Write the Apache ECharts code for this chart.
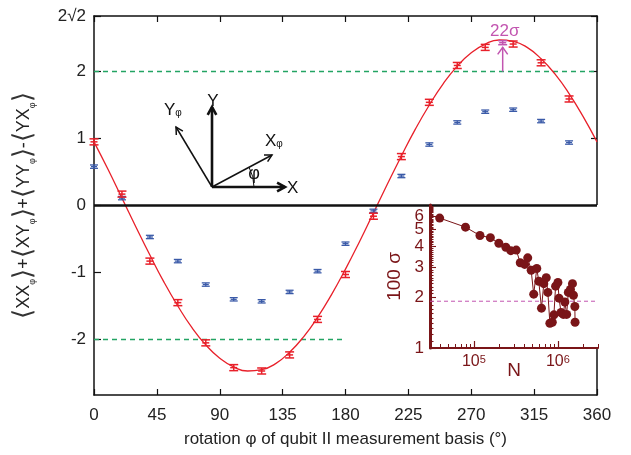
<!DOCTYPE html>
<html><head><meta charset="utf-8">
<script src="https://cdn.jsdelivr.net/npm/echarts@6.0.0/dist/echarts.min.js"></script>
<style>html,body{margin:0;padding:0;background:#fff}#c{width:631px;height:455px}</style>
</head><body><div id="c"></div>
<script>
const FONT = '"Liberation Sans", Arial, Helvetica, sans-serif';
// ---- main plot data ----
const phi = [0,20,40,60,80,100,120,140,160,180,200,220,240,260,280,300,320,340];
const redVals = [0.95,0.17,-0.83,-1.45,-2.05,-2.42,-2.47,-2.23,-1.70,-1.03,-0.16,0.73,1.54,2.09,2.36,2.41,2.13,1.59];
const redErr = 0.045;
const blueVals = [0.58,0.11,-0.47,-0.83,-1.18,-1.40,-1.43,-1.29,-0.98,-0.57,-0.08,0.44,0.91,1.24,1.40,1.43,1.26,0.94];
const blueErr = 0.025;
const magPhi = [292.5];
const magVals = [2.43];
const magErr = 0.03;
const arrowFrom = 2.0, arrowTo = 2.36, arrowLabelAt = 2.6;
const curvePhi = [0,10,20,30,40,50,60,70,80,90,100,110,120,130,140,150,160,170,180,190,200,210,220,230,240,250,260,270,280,290,300,310,320,330,340,350,360];
const curveVals = [0.95,0.54,0.11,-0.32,-0.74,-1.14,-1.50,-1.82,-2.08,-2.28,-2.41,-2.47,-2.45,-2.36,-2.19,-1.96,-1.67,-1.33,-0.95,-0.54,-0.11,0.32,0.74,1.14,1.50,1.82,2.08,2.28,2.41,2.47,2.45,2.36,2.19,1.96,1.67,1.33,0.95];
const yTicks = [-2,-1,0,1,2,2*Math.SQRT2];
const upperBoundPhi = [0,360], upperBound = [2,2];
const lowerBoundPhi = [0,180], lowerBound = [-2,-2];
// ---- inset data ----
const insetN = [39100,79400,118000,157000,198000,240000,275000,319000,356000,402000,437000,480000,515000,560000,592000,637000,679000,726000,759000,802000,857000,896000,938000,1000000,1030000,1090000,1160000,1210000,1270000,1330000,1410000,1490000,1530000,1590000,1600000];
const insetSigma = [5.86,5.18,4.62,4.49,4.16,3.94,3.76,3.79,3.19,3.12,3.41,2.88,2.08,2.95,2.48,1.72,2.40,2.60,2.13,1.40,1.42,1.57,2.32,2.44,1.97,1.62,1.58,1.87,1.58,2.13,2.22,2.40,2.05,1.76,1.42];
const insetRef = 1.89;
const insetYLabelsA = [1,2,3,4,6];
const insetYLabelsB = [5];
const insetXLabels = [5,6]; // powers of ten

const RED = '#e8202a', BLUE = '#3a5aa8', MAG = '#c255b0', DRED = '#7a1518', GREEN = '#23a463';

const yMax = 2*Math.SQRT2;
const xLogMin = Math.log10(30000), xLogMax = Math.log10(3000000), yLogMax = Math.log10(7);
const minorX = []; [4,5,6,7,8,9].forEach(k=>minorX.push(Math.log10(k*1e4)));
[2,3,4,5,6,7,8,9].forEach(k=>minorX.push(Math.log10(k*1e5))); [2,3].forEach(k=>minorX.push(Math.log10(k*1e6)));
const minorY = []; for (let i=11;i<70;i++){ if(i%10) minorY.push(Math.log10(i/10)); }

function errRender(color, capW, lw) {
  return function(params, api) {
    const x = api.value(0), y = api.value(1), e = api.value(2);
    const t = api.coord([x, y+e]), b = api.coord([x, y-e]), c = api.coord([x, y]);
    const h = capW/2, st = {stroke: color, lineWidth: lw};
    return {type:'group', children:[
      {type:'line', shape:{x1:t[0],y1:t[1],x2:b[0],y2:b[1]}, style:st},
      {type:'line', shape:{x1:t[0]-h,y1:t[1],x2:t[0]+h,y2:t[1]}, style:st},
      {type:'line', shape:{x1:b[0]-h,y1:b[1],x2:b[0]+h,y2:b[1]}, style:st},
      {type:'line', shape:{x1:c[0]-h+1,y1:c[1],x2:c[0]+h-1,y2:c[1]}, style:st}
    ]};
  };
}

function arrowEls(x1,y1,x2,y2,lw,hl,color){
  const a = Math.atan2(y2-y1, x2-x1), s = 0.5;
  const p1 = [x2 - hl*Math.cos(a-s), y2 - hl*Math.sin(a-s)];
  const p2 = [x2 - hl*Math.cos(a+s), y2 - hl*Math.sin(a+s)];
  return [
    {type:'line', shape:{x1,y1,x2,y2}, style:{stroke:color, lineWidth:lw}},
    {type:'polyline', shape:{points:[p1,[x2,y2],p2]}, style:{stroke:color, lineWidth:lw, fill:null, lineJoin:'miter'}}
  ];
}

const chart = echarts.init(document.getElementById('c'));
const O = [212,187];
const diagram = [].concat(
  arrowEls(O[0],O[1],212,107,2.6,9,'#111'),
  arrowEls(O[0],O[1],285,187,2.6,9,'#111'),
  arrowEls(O[0],O[1],272,155,1.5,8,'#111'),
  arrowEls(O[0],O[1],176,127,1.5,8,'#111'),
  [
    {type:'arc', shape:{cx:O[0],cy:O[1],r:42,startAngle:-0.49,endAngle:0,clockwise:true}, style:{stroke:'#111',lineWidth:1,fill:null}},
    {type:'text', x:213, y:101, style:{text:'Y', font:'17px '+FONT, fill:'#111', align:'center', verticalAlign:'middle'}},
    {type:'text', x:287, y:188, style:{text:'X', font:'17px '+FONT, fill:'#111', align:'left', verticalAlign:'middle'}},
    {type:'text', x:265, y:141, style:{text:'X{s|φ}', font:'17px '+FONT, fill:'#111', align:'left', verticalAlign:'middle', rich:{s:{fontSize:10, fontFamily:FONT, fill:'#111', verticalAlign:'bottom', lineHeight:8}}}},
    {type:'text', x:164, y:110, style:{text:'Y{s|φ}', font:'17px '+FONT, fill:'#111', align:'left', verticalAlign:'middle', rich:{s:{fontSize:10, fontFamily:FONT, fill:'#111', verticalAlign:'bottom', lineHeight:8}}}},
    {type:'text', x:254, y:174, style:{text:'φ', font:'18px '+FONT, fill:'#111', align:'center', verticalAlign:'middle'}}
  ]
);

const axisBlack = {onZero:false, lineStyle:{color:'#111', width:1.5}};
const insetYLabelAxis = (vals, showLine, tickLen, tickVals, extra) => Object.assign({
  type:'value', gridIndex:1, min:0, max:yLogMax, position:'left', z:5,
  axisLine:{show:showLine, onZero:false, lineStyle:{color:DRED, width:3}},
  axisTick:{inside:true, length:tickLen, customValues:tickVals, lineStyle:{color:DRED,width:1.1}},
  axisLabel:{customValues:vals.map(v=>Math.log10(v)), hideOverlap:false,
    formatter:v=>String(Math.round(Math.pow(10,v))), color:DRED, fontSize:17, fontFamily:FONT, margin:6},
  splitLine:{show:false}}, extra||{});

chart.setOption({
  animation:false,
  grid:[
    {left:94, top:16, right:34, bottom:60, show:false},
    {left:430, top:205, right:33, bottom:107, show:true, backgroundColor:'#fff', borderWidth:0, z:3}
  ],
  xAxis:[
    {type:'value', gridIndex:0, min:0, max:360, interval:45, position:'bottom',
     axisLine:axisBlack, axisTick:{inside:true, length:6, lineStyle:{color:'#111',width:1.2}},
     axisLabel:{color:'#222', fontSize:17, fontFamily:FONT, margin:12}, splitLine:{show:false},
     name:'rotation φ of qubit II measurement basis (°)', nameLocation:'middle', nameGap:36, nameMoveOverlap:false,
     nameTextStyle:{color:'#222', fontSize:17, fontFamily:FONT}},
    {type:'value', gridIndex:0, min:0, max:360, interval:45, position:'top',
     axisLine:axisBlack, axisTick:{inside:true, length:6, lineStyle:{color:'#111',width:1.2}},
     axisLabel:{show:false}, splitLine:{show:false}},
    {type:'log', gridIndex:1, min:30000, max:3000000, show:false},
    {type:'value', gridIndex:1, min:xLogMin, max:xLogMax, position:'bottom', z:5,
     axisLine:{onZero:false, lineStyle:{color:DRED, width:2}},
     axisTick:{inside:true, length:7, customValues:insetXLabels, lineStyle:{color:DRED,width:1.2}},
     axisLabel:{customValues:insetXLabels, hideOverlap:false, formatter:v=>'10{s|'+Math.round(v)+'}', color:DRED, fontSize:16, fontFamily:FONT, margin:6,
       rich:{s:{fontSize:11, fontFamily:FONT, color:DRED, verticalAlign:'top', lineHeight:10}}},
     splitLine:{show:false},
     name:'N', nameLocation:'middle', nameGap:13, nameMoveOverlap:false, nameTextStyle:{color:DRED, fontSize:19, fontFamily:FONT}},
    {type:'value', gridIndex:1, min:xLogMin, max:xLogMax, position:'bottom', z:5,
     axisLine:{show:false, onZero:false}, axisTick:{inside:true, length:4, customValues:minorX, lineStyle:{color:DRED,width:1}},
     axisLabel:{show:false}, splitLine:{show:false}}
  ],
  yAxis:[
    {type:'value', gridIndex:0, min:-yMax, max:yMax, position:'left',
     axisLine:axisBlack, axisTick:{inside:true, length:7, customValues:yTicks, lineStyle:{color:'#111',width:1.2}},
     axisLabel:{customValues:yTicks, hideOverlap:false, formatter:v=>v>2.5?'2√2':String(Math.round(v)), color:'#222', fontSize:17, fontFamily:FONT, margin:8},
     splitLine:{show:false},
     name:'{b|⟨}XX{s|φ}{b|⟩}+{b|⟨}XY{s|φ}{b|⟩}+{b|⟨}YY{s|φ}{b|⟩}-{b|⟨}YX{s|φ}{b|⟩}', nameLocation:'middle', nameGap:57, nameRotate:90, nameMoveOverlap:false,
     nameTextStyle:{color:'#222', fontSize:18, fontFamily:FONT,
       rich:{b:{fontSize:26, fontFamily:'"DejaVu Sans", '+FONT, color:'#333', fontWeight:'lighter'},
             s:{fontSize:9, fontFamily:FONT, color:'#333', verticalAlign:'bottom', lineHeight:10}}}},
    {type:'value', gridIndex:0, min:-yMax, max:yMax, position:'right',
     axisLine:axisBlack, axisTick:{inside:true, length:6, customValues:yTicks, lineStyle:{color:'#111',width:1.2}},
     axisLabel:{show:false}, splitLine:{show:false}},
    {type:'log', gridIndex:1, min:1, max:7, show:false},
    insetYLabelAxis(insetYLabelsA, true, 6, [1,2,3,4,5,6].map(v=>Math.log10(v)),
      {name:'100 σ', nameLocation:'middle', nameGap:26, nameRotate:90, nameMoveOverlap:false, nameTextStyle:{color:DRED, fontSize:19, fontFamily:FONT}}),
    insetYLabelAxis(insetYLabelsB, false, 3.5, minorY)
  ],
  series:[
    {type:'line', xAxisIndex:0, yAxisIndex:0, data:curvePhi.map((p,i)=>[p,curveVals[i]]), smooth:true, showSymbol:false,
     lineStyle:{color:RED, width:1.3}, z:3},
    {type:'line', xAxisIndex:0, yAxisIndex:0, data:upperBoundPhi.map((p,i)=>[p,upperBound[i]]), showSymbol:false, silent:true,
     itemStyle:{color:GREEN}, lineStyle:{color:GREEN, type:[5,4], width:1.5, opacity:1}, z:2},
    {type:'line', xAxisIndex:0, yAxisIndex:0, data:lowerBoundPhi.map((p,i)=>[p,lowerBound[i]]), showSymbol:false, silent:true,
     itemStyle:{color:GREEN}, lineStyle:{color:GREEN, type:[5,4], width:1.5, opacity:1}, z:2},
    {type:'line', xAxisIndex:0, yAxisIndex:0, data:[[0,0],[360,0]], showSymbol:false, silent:true,
     lineStyle:{color:'#111', width:2.5}, z:3},
    {type:'custom', xAxisIndex:0, yAxisIndex:0, renderItem:errRender(BLUE, 8, 1.3), data:phi.map((p,i)=>[p,blueVals[i],blueErr]), z:4},
    {type:'custom', xAxisIndex:0, yAxisIndex:0, renderItem:errRender(RED, 9, 1.5), data:phi.map((p,i)=>[p,redVals[i],redErr]), z:5},
    {type:'custom', xAxisIndex:0, yAxisIndex:0, renderItem:errRender(MAG, 9, 1.5), data:magPhi.map((p,i)=>[p,magVals[i],magErr]), z:5},
    {type:'custom', xAxisIndex:0, yAxisIndex:0, z:5, data:[[magPhi[0], arrowFrom, arrowTo, arrowLabelAt]],
     renderItem:function(params, api){
       const x = api.value(0);
       const a = api.coord([x, api.value(1)]), b = api.coord([x, api.value(2)]), l = api.coord([x, api.value(3)]);
       return {type:'group', children:[
         {type:'line', shape:{x1:a[0],y1:a[1],x2:b[0],y2:b[1]}, style:{stroke:MAG, lineWidth:1.5}},
         {type:'polyline', shape:{points:[[b[0]-5,b[1]+7],[b[0],b[1]],[b[0]+5,b[1]+7]]}, style:{stroke:MAG, lineWidth:1.5, fill:null}},
         {type:'text', x:l[0]+2, y:l[1], style:{text:'22σ', font:'17px '+FONT, fill:MAG, align:'center', verticalAlign:'middle'}}
       ]};
     }},
    {type:'line', xAxisIndex:2, yAxisIndex:2, data:insetN.map((n,i)=>[n,insetSigma[i]]), z:6,
     symbol:'circle', symbolSize:9, itemStyle:{color:DRED}, lineStyle:{color:DRED, width:1}},
    {type:'line', xAxisIndex:2, yAxisIndex:2, data:[[30000,insetRef],[3000000,insetRef]], z:5, showSymbol:false, silent:true,
     lineStyle:{color:MAG, type:[4,3], width:1}}
  ],
  graphic: diagram
});
</script></body></html>
